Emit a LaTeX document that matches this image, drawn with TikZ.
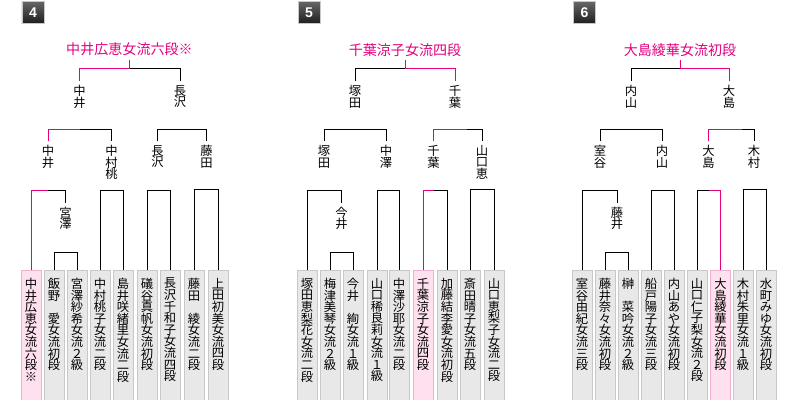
\documentclass[tikz,border=0pt]{standalone}
\usepackage{fontspec}
\setmainfont{Noto Sans CJK JP}
\newfontfamily\badgefont{Liberation Sans}
\definecolor{kwpink}{RGB}{228,0,127}
\definecolor{kwgray}{RGB}{232,232,232}
\definecolor{kwedge}{RGB}{200,200,200}
\definecolor{kwrose}{RGB}{255,224,238}
\definecolor{kwroseedge}{RGB}{240,176,208}
% vertical (tate) text: one character per line
\newcommand\tatei[1]{\ifx\relax#1\else\hbox to 1em{\hss#1\hss}\expandafter\tatei\fi}
\newcommand\tate[1]{\vbox{\baselineskip=9.9pt\lineskiplimit=-20pt\tatei#1\relax}}
\newcommand\plate[1]{\vbox to 3.96cm{\kern6.5pt\baselineskip=9.9pt\lineskiplimit=-20pt\tatei#1\relax\vfil}}

\begin{document}
\begin{tikzpicture}[
    x=0.03cm, y=-0.03cm,
    pbox/.style={draw=kwedge, fill=kwgray, line width=0.85pt, minimum width=0.6cm,
                 inner sep=0pt, anchor=north, font=\fontsize{10.5pt}{9.9pt}\selectfont},
    wbox/.style={pbox, draw=kwroseedge, fill=kwrose},
    lbl/.style={anchor=north, inner sep=3pt, font=\fontsize{10.5pt}{9.9pt}\selectfont},
    champ/.style={anchor=south, inner sep=3pt, text=kwpink,
                  font=\fontsize{12pt}{14pt}\selectfont},
    badge/.style={minimum size=0.66cm, inner sep=0pt, draw=kwedge,
                  top color=black!60, bottom color=black!88, text=white,
                  font=\badgefont\bfseries\fontsize{12pt}{12pt}\selectfont},
    tie/.style={line width=0.85pt},
    win/.style={tie, draw=kwpink}
  ]
    \fill[white] (0,0) rectangle (800,400);
    \useasboundingbox (0,0) rectangle (800,400);

    % Bracket 4
    \node[badge] (b4no) at (33,12.5) {4};
    \node[wbox] (b4p1) at (31,270)  {\plate{中井広恵女流六段※}};
    \node[pbox] (b4p2) at (54,270)  {\plate{飯野　愛女流初段}};
    \node[pbox] (b4p3) at (77,270)  {\plate{宮澤紗希女流２級}};
    \node[pbox] (b4p4) at (100,270) {\plate{中村桃子女流二段}};
    \node[pbox] (b4p5) at (123,270) {\plate{島井咲緒里女流二段}};
    \node[pbox] (b4p6) at (147,270) {\plate{礒谷真帆女流初段}};
    \node[pbox] (b4p7) at (170,270) {\plate{長沢千和子女流四段}};
    \node[pbox] (b4p8) at (194,270) {\plate{藤田　綾女流二段}};
    \node[pbox] (b4p9) at (218,270) {\plate{上田初美女流四段}};
    \node[lbl] (b4r1) at (65.5,203)  {\tate{宮澤}};
    \node[lbl] (b4s1) at (48,141.5)  {\tate{中井}};
    \node[lbl] (b4s2) at (111.5,141.5) {\tate{中村桃}};
    \node[lbl] (b4s3) at (157.5,141.5) {\tate{長沢}};
    \node[lbl] (b4s4) at (206.5,141.5) {\tate{藤田}};
    \node[lbl] (b4t1) at (79.5,81.5) {\tate{中井}};
    \node[lbl] (b4t2) at (180,81.5)  {\tate{長沢}};
    \node[champ] (b4w) at (129.5,60) {中井広恵女流六段※};
    \coordinate (b4j2) at (48,190.5);
    \coordinate (b4j6) at (80,129.5);
    \coordinate (b4j0) at (129.5,69);
    \draw[tie] (b4p2.north) -- ++(0,-18) -| (b4p3.north);
    \draw[tie] (b4j2) -| (b4r1.north);
    \draw[tie] (b4p4.north) -- ++(0,-79.5) -| (b4p5.north);
    \draw[tie] (b4p6.north) -- ++(0,-79.5) -| (b4p7.north);
    \draw[tie] (b4p8.north) -- ++(0,-80) -| (b4p9.north);
    \draw[tie] (b4j6) -| (b4s2.north);
    \draw[tie] (b4s3.north) -- ++(0,-12) -| (b4s4.north);
    \draw[tie] (b4j0) -| (b4t2.north);
    \draw[win] (b4p1.north) |- (b4j2);
    \draw[win] (b4s1.north) |- (b4j6);
    \draw[win] (b4t1.north) |- (b4j0);
    \draw[win] (b4w.south) -- (b4j0);

    % Bracket 5
    \node[badge] (b5no) at (309,12.5) {5};
    \node[pbox] (b5p1) at (307,270) {\plate{塚田恵梨花女流二段}};
    \node[pbox] (b5p2) at (330,270) {\plate{梅津美琴女流２級}};
    \node[pbox] (b5p3) at (353,270) {\plate{今井　絢女流１級}};
    \node[pbox] (b5p4) at (377,270) {\plate{山口稀良莉女流１級}};
    \node[pbox] (b5p5) at (399,270) {\plate{中澤沙耶女流二段}};
    \node[wbox] (b5p6) at (423,270) {\plate{千葉涼子女流四段}};
    \node[pbox] (b5p7) at (447,270) {\plate{加藤結李愛女流初段}};
    \node[pbox] (b5p8) at (470,270) {\plate{斎田晴子女流五段}};
    \node[pbox] (b5p9) at (494,270) {\plate{山口恵梨子女流二段}};
    \node[lbl] (b5r1) at (341.5,203) {\tate{今井}};
    \node[lbl] (b5s1) at (324,141.5) {\tate{塚田}};
    \node[lbl] (b5s2) at (386,141.5) {\tate{中澤}};
    \node[lbl] (b5s3) at (433.5,141.5) {\tate{千葉}};
    \node[lbl] (b5s4) at (482,141.5) {\tate{山口恵}};
    \node[lbl] (b5t1) at (355,81.5) {\tate{塚田}};
    \node[lbl] (b5t2) at (455,81.5) {\tate{千葉}};
    \node[champ] (b5w) at (405,60) {千葉涼子女流四段};
    \coordinate (b5j4) at (433.5,190.5);
    \coordinate (b5j7) at (467,129.5);
    \coordinate (b5j0) at (405,69);
    \draw[tie] (b5p2.north) -- ++(0,-18) -| (b5p3.north);
    \draw[tie] (b5p1.north) -- ++(0,-79.5) -| (b5r1.north);
    \draw[tie] (b5p4.north) -- ++(0,-79.5) -| (b5p5.north);
    \draw[tie] (b5j4) -| (b5p7.north);
    \draw[tie] (b5p8.north) -- ++(0,-80) -| (b5p9.north);
    \draw[tie] (b5s1.north) -- ++(0,-12) -| (b5s2.north);
    \draw[tie] (b5j7) -| (b5s4.north);
    \draw[tie] (b5t1.north) |- (b5j0);
    \draw[win] (b5p6.north) |- (b5j4);
    \draw[win] (b5s3.north) |- (b5j7);
    \draw[win] (b5j0) -| (b5t2.north);
    \draw[win] (b5w.south) -- (b5j0);

    % Bracket 6
    \node[badge] (b6no) at (584.5,12.5) {6};
    \node[pbox] (b6p1) at (582,270) {\plate{室谷由紀女流三段}};
    \node[pbox] (b6p2) at (605,270) {\plate{藤井奈々女流初段}};
    \node[pbox] (b6p3) at (628,270) {\plate{榊　菜吟女流２級}};
    \node[pbox] (b6p4) at (651,270) {\plate{船戸陽子女流三段}};
    \node[pbox] (b6p5) at (674,270) {\plate{内山あや女流初段}};
    \node[pbox] (b6p6) at (697,270) {\plate{山口仁子梨女流２段}};
    \node[wbox] (b6p7) at (720.5,270) {\plate{大島綾華女流初段}};
    \node[pbox] (b6p8) at (743,270) {\plate{木村朱里女流１級}};
    \node[pbox] (b6p9) at (766,270) {\plate{水町みゆ女流初段}};
    \node[lbl] (b6r1) at (617,203) {\tate{藤井}};
    \node[lbl] (b6s1) at (600,141.5) {\tate{室谷}};
    \node[lbl] (b6s2) at (662,141.5) {\tate{内山}};
    \node[lbl] (b6s3) at (708.5,141.5) {\tate{大島}};
    \node[lbl] (b6s4) at (754,141.5) {\tate{木村}};
    \node[lbl] (b6t1) at (631,81.5) {\tate{内山}};
    \node[lbl] (b6t2) at (729,81.5) {\tate{大島}};
    \node[champ] (b6w) at (680,60) {大島綾華女流初段};
    \coordinate (b6j4) at (708.5,190.5);
    \coordinate (b6j7) at (742,129.5);
    \coordinate (b6j0) at (680,69);
    \draw[tie] (b6p2.north) -- ++(0,-18) -| (b6p3.north);
    \draw[tie] (b6p1.north) -- ++(0,-79.5) -| (b6r1.north);
    \draw[tie] (b6p4.north) -- ++(0,-79.5) -| (b6p5.north);
    \draw[tie] (b6p6.north) |- (b6j4);
    \draw[tie] (b6p8.north) -- ++(0,-80) -| (b6p9.north);
    \draw[tie] (b6s1.north) -- ++(0,-12) -| (b6s2.north);
    \draw[tie] (b6j7) -| (b6s4.north);
    \draw[tie] (b6t1.north) |- (b6j0);
    \draw[win] (b6j4) -| (b6p7.north);
    \draw[win] (b6s3.north) |- (b6j7);
    \draw[win] (b6j0) -| (b6t2.north);
    \draw[win] (b6w.south) -- (b6j0);
\end{tikzpicture}
\end{document}
